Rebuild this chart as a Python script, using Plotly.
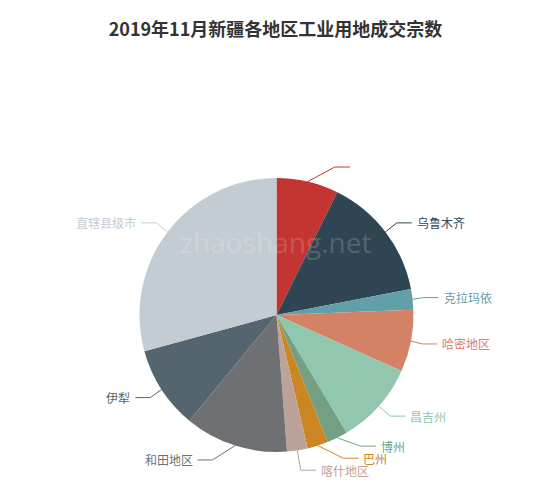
import math
import plotly.graph_objects as go

title_text = "2019年11月新疆各地区工业用地成交宗数"
regions = ["", "乌鲁木齐", "克拉玛依", "哈密地区", "昌吉州", "博州", "巴州",
           "喀什地区", "和田地区", "伊犁", "直辖县级市"]
counts = [3, 6, 1, 3, 4, 1, 1, 1, 5, 4, 12]
colors = ["#c23531", "#2f4554", "#61a0a8", "#d48265", "#91c7ae", "#749f83",
          "#ca8622", "#bda29a", "#6e7074", "#546570", "#c4ccd3"]
watermark = "zhaoshang.net"

W, H = 550, 490
OFF = 8  # page body margin
CX, CY, R = 276.5, 315, 137
LEN1, LEN2, GAP, LABEL_H = 15, 15, 5, 12
FONT = "Noto Sans CJK SC, Microsoft YaHei, sans-serif"

total = sum(counts)
items = []
cum = 0
for i, (name, v) in enumerate(zip(regions, counts)):
    a0 = cum / total * 2 * math.pi
    cum += v
    a1 = cum / total * 2 * math.pi
    mid = (a0 + a1) / 2
    dx, dy = math.sin(mid), -math.cos(mid)
    d = -1 if dx < 0 else 1
    x2, y2 = CX + (R + LEN1) * dx, CY + (R + LEN1) * dy
    items.append(dict(i=i, name=name, x1=CX + R * dx, y1=CY + R * dy,
                      x=x2 + d * LEN2 + d * GAP, y=y2, d=d))


def adjust(lst, d):
    lst.sort(key=lambda t: t["y"])
    n = len(lst)

    def shift_up(end, delta):
        for j in range(end, -1, -1):
            lst[j]["y"] -= delta
            if j > 0 and lst[j]["y"] > lst[j - 1]["y"] + LABEL_H:
                break

    def shift_down(start, end, delta):
        for j in range(start, end):
            lst[j]["y"] += delta
            if j > start and j + 1 < end and lst[j + 1]["y"] > lst[j]["y"] + LABEL_H:
                shift_up(j, delta / 2)
                return
        shift_up(end - 1, delta / 2)

    last_y = 0
    for i in range(n):
        delta = lst[i]["y"] - last_y
        if delta < 0:
            shift_down(i, n, -delta)
        last_y = lst[i]["y"] + LABEL_H
    if H - last_y < 0:
        shift_up(n - 1, last_y - H)

    def change_x(sub, is_down):
        last = float("inf") if is_down else 0
        rr = R + LEN1 + LEN2
        for t in sub:
            dyy = abs(t["y"] - CY)
            if dyy < R + LEN1:
                dxx = math.sqrt(rr * rr - dyy * dyy)
            else:
                dxx = abs(t["x"] - CX)
            if is_down and dxx >= last:
                dxx = last - 10
            if not is_down and dxx <= last:
                dxx = last + 10
            t["x"] = CX + dxx * d
            last = dxx

    change_x([t for t in lst if t["y"] < CY], False)
    change_x([t for t in lst if t["y"] >= CY], True)


adjust([t for t in items if t["d"] > 0], 1)
adjust([t for t in items if t["d"] < 0], -1)


def px(x):
    return (x - OFF) / W


def py(y):
    return 1 - (y - OFF) / H


fig = go.Figure()
fig.add_trace(go.Pie(
    labels=[n if n else "未命名" for n in regions],
    values=counts,
    sort=False,
    direction="clockwise",
    rotation=0,
    marker=dict(colors=colors, line=dict(width=0)),
    textinfo="none",
    hoverinfo="skip",
    showlegend=False,
    domain=dict(x=[px(CX - R), px(CX + R)], y=[py(CY + R), py(CY - R)]),
))

shapes = []
annotations = []
for t in items:
    c = colors[t["i"]]
    end_x = t["x"] - t["d"] * 4
    elbow_x = end_x - t["d"] * LEN2
    path = "M {:.4f},{:.4f} L {:.4f},{:.4f} L {:.4f},{:.4f}".format(
        px(t["x1"]), py(t["y1"]), px(elbow_x), py(t["y"]), px(end_x), py(t["y"]))
    shapes.append(dict(type="path", xref="paper", yref="paper", path=path,
                       line=dict(color=c, width=1)))
    if t["name"]:
        annotations.append(dict(
            x=px(t["x"]), y=py(t["y"]), xref="paper", yref="paper",
            text=t["name"], showarrow=False, borderpad=0,
            xanchor="left" if t["d"] > 0 else "right", yanchor="middle",
            font=dict(family=FONT, size=12, color=c)))

annotations.append(dict(
    x=px(275), y=py(242), xref="paper", yref="paper", text=watermark,
    showarrow=False, xanchor="center", yanchor="middle",
    font=dict(family="Open Sans, Roboto, sans-serif", size=28,
              color="rgba(255,255,255,0.18)")))

fig.update_layout(
    width=W, height=H,
    margin=dict(l=0, r=0, t=0, b=0),
    paper_bgcolor="white", plot_bgcolor="white",
    title=dict(text="<b>" + title_text + "</b>", x=px(275.5), xanchor="center",
               y=py(30), yanchor="middle",
               font=dict(family=FONT, size=18, color="#333333")),
    shapes=shapes,
    annotations=annotations,
)

fig.write_html("out.html")
